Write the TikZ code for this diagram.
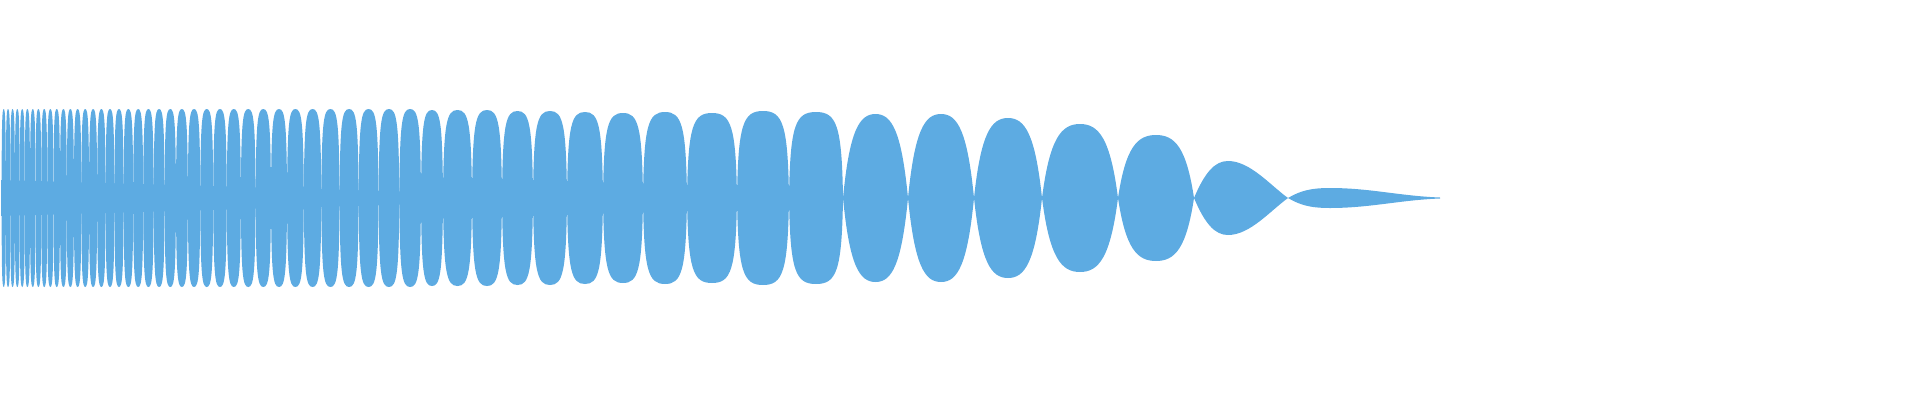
\documentclass[tikz,border=0pt]{standalone}
\definecolor{wave}{RGB}{93,171,226}
\newcommand\lobe[3]{%
  \pgfmathsetmacro\lw{#2-#1}%
  \pgfmathsetmacro\lm{(#1+#2)/2}%
  \fill[wave] (#1,198) .. controls ({#1+0.02*\lw},{198-0.85*#3}) and ({#1+0.12*\lw},{198-#3}) .. (\lm,{198-#3})
    .. controls ({#2-0.12*\lw},{198-#3}) and ({#2-0.02*\lw},{198-0.85*#3}) .. (#2,198)
    .. controls ({#2-0.02*\lw},{198+0.85*#3}) and ({#2-0.12*\lw},{198+#3}) .. (\lm,{198+#3})
    .. controls ({#1+0.12*\lw},{198+#3}) and ({#1+0.02*\lw},{198+0.85*#3}) .. cycle;}
\begin{document}
\begin{tikzpicture}[x=1pt,y=-1pt]
\useasboundingbox (0,0) rectangle (1920,400);
% central band
\fill[wave] (1,180) -- (420,192) -- (620,197) -- (700,198) -- (620,199) -- (420,204) -- (1,216) -- cycle;
% dense left lobes
\def\xx{421}
\loop
  \pgfmathsetmacro\nx{\xx-(4+0.042*\xx)}
  \lobe{\nx}{\xx}{89}
  \global\let\xx\nx
\ifdim\xx pt>2pt \repeat
% middle lobes
\lobe{421}{443}{88}
\lobe{443}{472}{88}
\lobe{472}{502}{88}
\lobe{502}{533}{87}
\lobe{533}{567}{87}
\lobe{567}{603}{86}
\lobe{603}{643}{85}
\lobe{643}{687}{86}
\lobe{687}{737}{85}
\lobe{737}{789}{87}
\lobe{789}{843}{86}
% right lobes (more sinusoidal)
\foreach \a/\b/\h in {843/908/84, 908/974/84, 974/1042/80, 1042/1118/74, 1118/1194/63}{
  \pgfmathsetmacro\m{(\a+\b)/2}
  \fill[wave] (\a,198) .. controls ({\a+0.1*(\b-\a)},{198-0.8*\h}) and ({\a+0.25*(\b-\a)},{198-\h}) .. (\m,{198-\h})
    .. controls ({\b-0.25*(\b-\a)},{198-\h}) and ({\b-0.1*(\b-\a)},{198-0.8*\h}) .. (\b,198)
    .. controls ({\b-0.1*(\b-\a)},{198+0.8*\h}) and ({\b-0.25*(\b-\a)},{198+\h}) .. (\m,{198+\h})
    .. controls ({\a+0.25*(\b-\a)},{198+\h}) and ({\a+0.1*(\b-\a)},{198+0.8*\h}) .. cycle;
}
% skewed lobe
\fill[wave] (1194,198) .. controls (1205,172) and (1215,161) .. (1228,161)
  .. controls (1250,161) and (1270,185) .. (1288,198)
  .. controls (1270,211) and (1250,235) .. (1228,235)
  .. controls (1215,235) and (1205,224) .. cycle;
% tail
\fill[wave] (1288,198) .. controls (1300,191) and (1310,188) .. (1330,188)
  .. controls (1370,188) and (1400,196) .. (1440,197.5) -- (1440,198.5)
  .. controls (1400,200) and (1370,208) .. (1330,208)
  .. controls (1310,208) and (1300,205) .. cycle;
\end{tikzpicture}
\end{document}
